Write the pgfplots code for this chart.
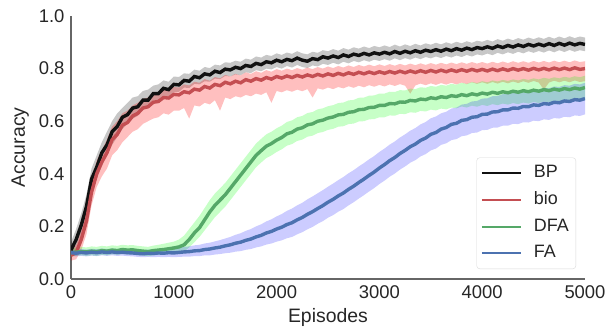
\documentclass[border=0pt]{standalone}
\usepackage{pgfplots}
\pgfplotsset{compat=1.18}
\usepackage{pgfplotstable}
\usepgfplotslibrary{fillbetween}
\usepackage{fontspec}
\setmainfont{Liberation Sans}

\definecolor{cbp}{HTML}{111111}
\definecolor{cbio}{HTML}{C44E52}
\definecolor{cdfa}{HTML}{55A868}
\definecolor{cfa}{HTML}{4C72B0}

\pgfplotstableread{
x m lo hi
0 0.110 0.090 0.140
50 0.150 0.110 0.190
100 0.205 0.160 0.250
150 0.275 0.230 0.320
200 0.380 0.330 0.420
250 0.425 0.380 0.470
300 0.480 0.430 0.520
350 0.510 0.470 0.560
400 0.560 0.510 0.600
450 0.580 0.540 0.630
500 0.615 0.570 0.650
550 0.625 0.590 0.670
600 0.650 0.610 0.690
650 0.655 0.620 0.695
700 0.680 0.645 0.715
750 0.680 0.650 0.720
800 0.705 0.670 0.735
850 0.705 0.675 0.740
900 0.725 0.695 0.755
950 0.720 0.695 0.750
1000 0.740 0.710 0.770
1050 0.738 0.712 0.768
1100 0.755 0.728 0.782
1150 0.752 0.726 0.780
1200 0.770 0.742 0.796
1250 0.765 0.740 0.792
1300 0.780 0.752 0.806
1350 0.776 0.750 0.802
1400 0.790 0.762 0.815
1450 0.785 0.760 0.812
1500 0.798 0.772 0.824
1550 0.795 0.770 0.822
1600 0.805 0.778 0.830
1650 0.800 0.775 0.826
1700 0.812 0.786 0.838
1750 0.808 0.783 0.834
1800 0.820 0.794 0.846
1850 0.815 0.790 0.842
1900 0.826 0.800 0.852
1950 0.822 0.797 0.848
2000 0.832 0.806 0.858
2050 0.826 0.800 0.852
2100 0.835 0.810 0.861
2150 0.830 0.804 0.856
2200 0.840 0.814 0.866
2250 0.832 0.806 0.858
2300 0.828 0.802 0.854
2350 0.838 0.812 0.864
2400 0.834 0.808 0.860
2450 0.845 0.818 0.870
2500 0.840 0.814 0.866
2550 0.848 0.822 0.874
2600 0.842 0.816 0.868
2650 0.852 0.826 0.878
2700 0.846 0.820 0.872
2750 0.855 0.829 0.881
2800 0.850 0.824 0.876
2850 0.858 0.832 0.884
2900 0.852 0.826 0.878
2950 0.860 0.834 0.886
3000 0.855 0.829 0.881
3050 0.862 0.836 0.888
3100 0.856 0.830 0.882
3150 0.865 0.839 0.891
3200 0.858 0.832 0.884
3250 0.866 0.840 0.892
3300 0.860 0.834 0.886
3350 0.868 0.842 0.894
3400 0.862 0.836 0.888
3450 0.870 0.844 0.896
3500 0.865 0.839 0.891
3550 0.872 0.846 0.898
3600 0.866 0.840 0.892
3650 0.874 0.848 0.900
3700 0.868 0.842 0.894
3750 0.876 0.850 0.902
3800 0.870 0.844 0.896
3850 0.878 0.852 0.904
3900 0.872 0.846 0.898
3950 0.880 0.854 0.906
4000 0.876 0.850 0.902
4050 0.883 0.857 0.909
4100 0.877 0.851 0.903
4150 0.886 0.860 0.912
4200 0.880 0.854 0.906
4250 0.888 0.862 0.914
4300 0.882 0.856 0.908
4350 0.890 0.864 0.916
4400 0.884 0.858 0.910
4450 0.892 0.866 0.918
4500 0.886 0.860 0.912
4550 0.893 0.867 0.919
4600 0.887 0.861 0.913
4650 0.895 0.869 0.921
4700 0.888 0.862 0.914
4750 0.896 0.870 0.922
4800 0.889 0.863 0.915
4850 0.897 0.871 0.923
4900 0.890 0.864 0.916
4950 0.896 0.870 0.922
5000 0.892 0.866 0.918
}\tbp

\pgfplotstableread{
x m lo hi
0 0.090 0.070 0.110
50 0.100 0.075 0.130
100 0.150 0.110 0.190
150 0.220 0.170 0.270
200 0.330 0.280 0.380
250 0.400 0.350 0.450
300 0.445 0.390 0.490
350 0.480 0.420 0.530
400 0.530 0.470 0.580
450 0.550 0.490 0.600
500 0.585 0.520 0.630
550 0.595 0.540 0.640
600 0.620 0.560 0.660
650 0.630 0.570 0.670
700 0.650 0.590 0.685
750 0.655 0.600 0.690
800 0.672 0.610 0.705
850 0.675 0.615 0.708
900 0.690 0.630 0.720
950 0.688 0.625 0.718
1000 0.702 0.640 0.730
1050 0.700 0.640 0.728
1100 0.712 0.650 0.740
1150 0.708 0.610 0.736
1200 0.722 0.660 0.750
1250 0.718 0.656 0.746
1300 0.732 0.670 0.760
1350 0.726 0.664 0.754
1400 0.740 0.680 0.768
1450 0.735 0.640 0.763
1500 0.748 0.690 0.776
1550 0.742 0.684 0.770
1600 0.752 0.695 0.780
1650 0.746 0.690 0.774
1700 0.758 0.700 0.786
1750 0.752 0.695 0.780
1800 0.762 0.705 0.790
1850 0.756 0.700 0.784
1900 0.766 0.710 0.794
1950 0.760 0.670 0.788
2000 0.770 0.715 0.798
2050 0.764 0.710 0.792
2100 0.772 0.718 0.800
2150 0.766 0.712 0.794
2200 0.774 0.720 0.802
2250 0.768 0.714 0.796
2300 0.776 0.722 0.804
2350 0.770 0.690 0.798
2400 0.778 0.725 0.806
2450 0.772 0.720 0.800
2500 0.780 0.728 0.808
2550 0.774 0.722 0.802
2600 0.782 0.730 0.810
2650 0.776 0.725 0.804
2700 0.784 0.733 0.812
2750 0.778 0.727 0.806
2800 0.786 0.735 0.814
2850 0.780 0.729 0.808
2900 0.787 0.737 0.815
2950 0.781 0.731 0.809
3000 0.788 0.738 0.816
3050 0.782 0.732 0.810
3100 0.789 0.740 0.817
3150 0.783 0.734 0.811
3200 0.790 0.741 0.818
3250 0.784 0.735 0.812
3300 0.791 0.705 0.819
3350 0.785 0.736 0.813
3400 0.792 0.743 0.820
3450 0.786 0.737 0.814
3500 0.793 0.744 0.821
3550 0.787 0.738 0.815
3600 0.794 0.745 0.822
3650 0.788 0.739 0.816
3700 0.795 0.746 0.823
3750 0.789 0.740 0.817
3800 0.796 0.747 0.824
3850 0.790 0.741 0.818
3900 0.797 0.748 0.825
3950 0.791 0.742 0.819
4000 0.797 0.748 0.825
4050 0.791 0.742 0.819
4100 0.798 0.749 0.826
4150 0.792 0.743 0.820
4200 0.799 0.750 0.827
4250 0.793 0.744 0.821
4300 0.800 0.751 0.828
4350 0.794 0.745 0.822
4400 0.800 0.752 0.828
4450 0.794 0.746 0.822
4500 0.801 0.753 0.829
4550 0.795 0.747 0.823
4600 0.801 0.720 0.829
4650 0.795 0.747 0.823
4700 0.802 0.754 0.830
4750 0.796 0.748 0.824
4800 0.802 0.754 0.830
4850 0.796 0.748 0.824
4900 0.803 0.755 0.831
4950 0.797 0.749 0.825
5000 0.800 0.752 0.828
}\tbio

\pgfplotstableread{
x m lo hi
0 0.100 0.085 0.115
50 0.102 0.088 0.118
100 0.104 0.090 0.122
150 0.103 0.088 0.120
200 0.106 0.090 0.124
250 0.104 0.088 0.122
300 0.108 0.092 0.126
350 0.106 0.090 0.124
400 0.110 0.094 0.128
450 0.108 0.092 0.126
500 0.112 0.095 0.130
550 0.110 0.093 0.128
600 0.111 0.094 0.129
650 0.108 0.091 0.126
700 0.106 0.089 0.124
750 0.104 0.087 0.122
800 0.108 0.090 0.127
850 0.110 0.092 0.130
900 0.112 0.094 0.134
950 0.115 0.096 0.138
1000 0.118 0.098 0.142
1050 0.122 0.100 0.150
1100 0.130 0.105 0.165
1150 0.150 0.120 0.190
1200 0.175 0.140 0.215
1250 0.195 0.160 0.240
1300 0.225 0.185 0.270
1350 0.255 0.210 0.300
1400 0.280 0.235 0.325
1450 0.300 0.255 0.345
1500 0.320 0.275 0.365
1550 0.345 0.300 0.390
1600 0.370 0.325 0.415
1650 0.395 0.350 0.440
1700 0.420 0.375 0.465
1750 0.445 0.400 0.490
1800 0.470 0.425 0.515
1850 0.488 0.443 0.533
1900 0.505 0.460 0.550
1950 0.515 0.470 0.560
2000 0.528 0.483 0.573
2050 0.538 0.493 0.583
2100 0.552 0.507 0.597
2150 0.558 0.513 0.603
2200 0.570 0.525 0.615
2250 0.575 0.530 0.620
2300 0.586 0.541 0.631
2350 0.590 0.545 0.635
2400 0.600 0.555 0.645
2450 0.604 0.559 0.649
2500 0.612 0.567 0.657
2550 0.616 0.571 0.661
2600 0.624 0.579 0.669
2650 0.626 0.581 0.671
2700 0.634 0.589 0.679
2750 0.636 0.591 0.681
2800 0.644 0.599 0.689
2850 0.645 0.600 0.690
2900 0.652 0.607 0.697
2950 0.653 0.608 0.698
3000 0.660 0.615 0.705
3050 0.660 0.615 0.705
3100 0.667 0.622 0.712
3150 0.666 0.621 0.711
3200 0.673 0.628 0.718
3250 0.672 0.627 0.717
3300 0.679 0.634 0.724
3350 0.677 0.632 0.722
3400 0.684 0.639 0.729
3450 0.682 0.637 0.727
3500 0.689 0.644 0.734
3550 0.686 0.641 0.731
3600 0.693 0.648 0.738
3650 0.690 0.645 0.735
3700 0.697 0.652 0.742
3750 0.694 0.649 0.739
3800 0.701 0.656 0.746
3850 0.697 0.652 0.742
3900 0.704 0.659 0.749
3950 0.700 0.655 0.745
4000 0.707 0.662 0.752
4050 0.703 0.658 0.748
4100 0.710 0.665 0.755
4150 0.706 0.661 0.751
4200 0.712 0.667 0.757
4250 0.708 0.663 0.753
4300 0.714 0.669 0.759
4350 0.710 0.665 0.755
4400 0.716 0.671 0.761
4450 0.712 0.667 0.757
4500 0.718 0.673 0.763
4550 0.714 0.669 0.759
4600 0.720 0.675 0.765
4650 0.716 0.671 0.761
4700 0.722 0.677 0.767
4750 0.718 0.673 0.763
4800 0.724 0.679 0.769
4850 0.720 0.675 0.765
4900 0.726 0.681 0.771
4950 0.722 0.677 0.767
5000 0.728 0.683 0.773
}\tdfa

\pgfplotstableread{
x m lo hi
0 0.100 0.088 0.112
50 0.098 0.086 0.110
100 0.101 0.088 0.114
150 0.099 0.086 0.112
200 0.102 0.089 0.115
250 0.100 0.087 0.113
300 0.103 0.090 0.116
350 0.101 0.088 0.114
400 0.103 0.090 0.116
450 0.101 0.088 0.114
500 0.102 0.089 0.116
550 0.100 0.087 0.114
600 0.099 0.086 0.113
650 0.097 0.084 0.111
700 0.096 0.083 0.110
750 0.098 0.084 0.112
800 0.097 0.083 0.112
850 0.099 0.084 0.114
900 0.098 0.083 0.114
950 0.100 0.084 0.116
1000 0.099 0.083 0.116
1050 0.101 0.084 0.119
1100 0.103 0.085 0.122
1150 0.104 0.085 0.124
1200 0.107 0.087 0.128
1250 0.108 0.087 0.130
1300 0.112 0.090 0.135
1350 0.114 0.090 0.138
1400 0.118 0.093 0.143
1450 0.121 0.095 0.148
1500 0.126 0.098 0.154
1550 0.130 0.100 0.160
1600 0.136 0.104 0.168
1650 0.140 0.106 0.174
1700 0.147 0.111 0.183
1750 0.152 0.114 0.190
1800 0.160 0.120 0.200
1850 0.166 0.124 0.208
1900 0.175 0.131 0.219
1950 0.181 0.135 0.227
2000 0.190 0.142 0.238
2050 0.197 0.147 0.247
2100 0.207 0.155 0.259
2150 0.214 0.160 0.268
2200 0.225 0.170 0.280
2250 0.234 0.178 0.290
2300 0.246 0.189 0.303
2350 0.256 0.198 0.314
2400 0.268 0.210 0.326
2450 0.279 0.220 0.338
2500 0.292 0.233 0.351
2550 0.303 0.243 0.363
2600 0.316 0.256 0.376
2650 0.327 0.266 0.388
2700 0.341 0.280 0.402
2750 0.353 0.292 0.414
2800 0.367 0.306 0.428
2850 0.380 0.319 0.441
2900 0.394 0.333 0.455
2950 0.407 0.346 0.468
3000 0.422 0.361 0.483
3050 0.435 0.374 0.496
3100 0.450 0.389 0.511
3150 0.462 0.401 0.523
3200 0.477 0.416 0.538
3250 0.489 0.428 0.550
3300 0.503 0.442 0.564
3350 0.513 0.452 0.574
3400 0.527 0.466 0.588
3450 0.536 0.475 0.597
3500 0.550 0.489 0.611
3550 0.557 0.496 0.618
3600 0.570 0.510 0.630
3650 0.576 0.516 0.636
3700 0.588 0.528 0.648
3750 0.592 0.532 0.652
3800 0.603 0.543 0.663
3850 0.606 0.546 0.666
3900 0.615 0.555 0.675
3950 0.617 0.557 0.677
4000 0.626 0.566 0.686
4050 0.627 0.567 0.687
4100 0.635 0.575 0.695
4150 0.636 0.576 0.696
4200 0.643 0.583 0.703
4250 0.643 0.583 0.703
4300 0.650 0.590 0.710
4350 0.649 0.589 0.709
4400 0.656 0.596 0.716
4450 0.655 0.595 0.715
4500 0.662 0.602 0.722
4550 0.660 0.600 0.720
4600 0.667 0.607 0.727
4650 0.665 0.605 0.725
4700 0.672 0.612 0.732
4750 0.670 0.610 0.730
4800 0.677 0.617 0.737
4850 0.675 0.615 0.735
4900 0.682 0.622 0.742
4950 0.680 0.620 0.740
5000 0.686 0.626 0.746
}\tfa

\begin{document}
\begin{tikzpicture}
\begin{axis}[
  at={(0,0)}, anchor=south west,
  scale only axis, width=514bp, height=263bp,
  xmin=0, xmax=5000, ymin=0, ymax=1,
  axis x line*=bottom, axis y line*=left,
  axis line style={draw=black!60, line width=1.5bp, -},
  major tick length=0pt,
  xtick={0,1000,2000,3000,4000,5000},
  ytick={0,0.2,0.4,0.6,0.8,1.0},
  /pgf/number format/assume math mode=true,
  xticklabel style={/pgf/number format/1000 sep={}, yshift=-3bp},
  yticklabel style={/pgf/number format/.cd, fixed, fixed zerofill, precision=1, /tikz/.cd, xshift=-3bp},
  tick label style={font=\fontsize{18.5}{21}\selectfont, text=black!85},
  label style={font=\fontsize{19.5}{22}\selectfont, text=black!85},
  xlabel={Episodes}, ylabel={Accuracy},
  xlabel style={at={(axis description cs:0.5,-0.148)}, anchor=center},
  ylabel style={at={(axis description cs:-0.099,0.5)}, anchor=center},
  no markers,
  legend cell align=left,
  legend style={at={(axis description cs:0.9825,0.038)}, anchor=south east,
    draw=black!15, rounded corners=3bp, fill=white,
    font=\fontsize{18}{20}\selectfont, text=black!85,
    nodes={inner sep=3bp, text height=13bp, text depth=4bp},
    row sep=3.7bp, column sep=9bp, inner xsep=4bp, inner ysep=4bp},
  legend image code/.code={\draw[#1, line width=2.2bp] (0bp,0bp) -- (39bp,0bp);},
]
% bands
\addplot[name path=bphi, draw=none, forget plot] table[x=x,y=hi]{\tbp};
\addplot[name path=bplo, draw=none, forget plot] table[x=x,y=lo]{\tbp};
\addplot[fill=black, fill opacity=0.22, draw=none, forget plot] fill between[of=bphi and bplo];
\addplot[name path=biohi, draw=none, forget plot] table[x=x,y=hi]{\tbio};
\addplot[name path=biolo, draw=none, forget plot] table[x=x,y=lo]{\tbio};
\addplot[fill=red, fill opacity=0.25, draw=none, forget plot] fill between[of=biohi and biolo];
\addplot[name path=dfahi, draw=none, forget plot] table[x=x,y=hi]{\tdfa};
\addplot[name path=dfalo, draw=none, forget plot] table[x=x,y=lo]{\tdfa};
\addplot[fill=green, fill opacity=0.22, draw=none, forget plot] fill between[of=dfahi and dfalo];
\addplot[name path=fahi, draw=none, forget plot] table[x=x,y=hi]{\tfa};
\addplot[name path=falo, draw=none, forget plot] table[x=x,y=lo]{\tfa};
\addplot[fill=blue, fill opacity=0.2, draw=none, forget plot] fill between[of=fahi and falo];
% mean lines
\addplot[cbp, line width=3.4bp] table[x=x,y=m]{\tbp};
\addlegendentry{BP}
\addplot[cbio, line width=3.4bp] table[x=x,y=m]{\tbio};
\addlegendentry{bio}
\addplot[cdfa, line width=3.4bp] table[x=x,y=m]{\tdfa};
\addlegendentry{DFA}
\addplot[cfa, line width=3.4bp] table[x=x,y=m]{\tfa};
\addlegendentry{FA}
\end{axis}
\pgfresetboundingbox
\useasboundingbox (-71bp,-50bp) rectangle (537bp,279bp);
\end{tikzpicture}
\end{document}
